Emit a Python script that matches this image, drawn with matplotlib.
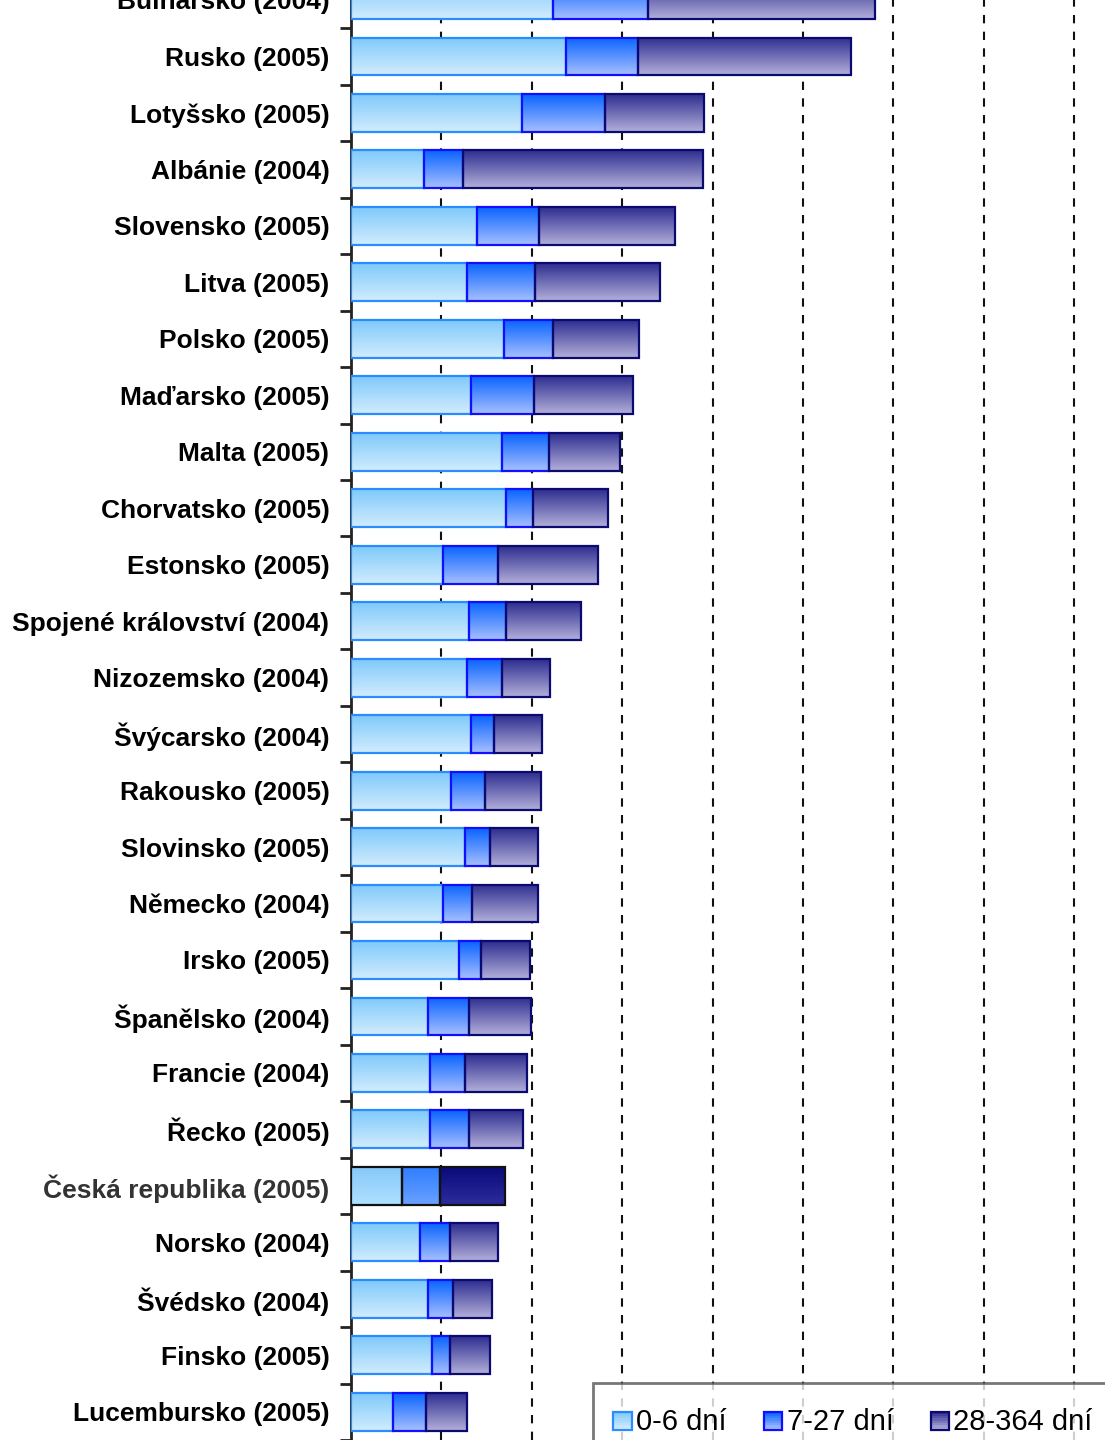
import matplotlib.pyplot as plt
import matplotlib.colors as mcolors
import numpy as np
from matplotlib.patches import Rectangle
from matplotlib.legend_handler import HandlerBase

plt.rcParams['font.family'] = ['Liberation Sans', 'DejaVu Sans']

countries = ['Bulharsko (2004)', 'Rusko (2005)', 'Lotyšsko (2005)', 'Albánie (2004)',
             'Slovensko (2005)', 'Litva (2005)', 'Polsko (2005)', 'Maďarsko (2005)',
             'Malta (2005)', 'Chorvatsko (2005)', 'Estonsko (2005)',
             'Spojené království (2004)', 'Nizozemsko (2004)', 'Švýcarsko (2004)',
             'Rakousko (2005)', 'Slovinsko (2005)', 'Německo (2004)', 'Irsko (2005)',
             'Španělsko (2004)', 'Francie (2004)', 'Řecko (2005)',
             'Česká republika (2005)', 'Norsko (2004)', 'Švédsko (2004)',
             'Finsko (2005)', 'Lucembursko (2005)']

# segment widths (one grid step = 1 unit)
d0_6 = [2.23, 2.38, 1.89, 0.81, 1.39, 1.28, 1.69, 1.33, 1.67, 1.71, 1.02, 1.31, 1.28,
        1.33, 1.11, 1.26, 1.02, 1.19, 0.85, 0.87, 0.87, 0.56, 0.76, 0.85, 0.90, 0.46]
d7_27 = [1.05, 0.80, 0.92, 0.43, 0.69, 0.75, 0.55, 0.69, 0.52, 0.30, 0.61, 0.41, 0.39,
         0.25, 0.37, 0.28, 0.32, 0.25, 0.45, 0.39, 0.43, 0.43, 0.34, 0.28, 0.19, 0.37]
d28_364 = [2.52, 2.35, 1.10, 2.65, 1.50, 1.39, 0.95, 1.10, 0.79, 0.83, 1.10, 0.82, 0.53,
           0.53, 0.62, 0.53, 0.73, 0.54, 0.69, 0.69, 0.60, 0.71, 0.53, 0.43, 0.45, 0.45]
series_names = ['0-6 dní', '7-27 dní', '28-364 dní']
highlight = 'Česká republika (2005)'

# (top colour, bottom colour, edge colour)
styles = [('#7fcafb', '#d2ecfd', '#2a8cff'),
          ('#0a64ff', '#a6bfff', '#1010ff'),
          ('#2e2e90', '#b3afda', '#0a0a70')]
styles_hl = [('#86c9fa', '#b0e0ff', '#111111'),
             ('#2f7dff', '#6aa2ff', '#111111'),
             ('#0a0a7a', '#2c2c9c', '#111111')]


def gradient(top, bottom, n=64):
    a = np.array(mcolors.to_rgb(top))
    b = np.array(mcolors.to_rgb(bottom))
    t = np.linspace(0, 1, n)[:, None]
    return (a * (1 - t) + b * t)[:, None, :]


fig = plt.figure(figsize=(11.05, 14.4), dpi=100)
ax = fig.add_axes([351 / 1105, 0, 1 - 351 / 1105, 1])

y = np.arange(len(countries))
h = 0.67
lefts = np.zeros(len(countries))
for vals, st, sth in zip([d0_6, d7_27, d28_364], styles, styles_hl):
    vals = np.array(vals)
    edges = [sth[2] if c == highlight else st[2] for c in countries]
    bars = ax.barh(y, vals, left=lefts, height=h, facecolor='none',
                   edgecolor=edges, linewidth=1.6, zorder=4)
    for c, p in zip(countries, bars.patches):
        s = sth if c == highlight else st
        x0, y0 = p.get_x(), p.get_y()
        im = ax.imshow(gradient(s[0], s[1]), extent=(x0, x0 + p.get_width(), y0 + h, y0),
                       origin='upper', aspect='auto', interpolation='bilinear', zorder=3)
        im.set_clip_path(p)
    lefts = lefts + vals

ax.set_xlim(0, (1105 - 351) / 90.4)
ax.set_ylim((1440 + 0.6) / 56.625, 0.6 / 56.625)
ax.set_xticks(np.arange(1, 9))
ax.xaxis.grid(True, color='#111111', linestyle=(0, (4, 4)), linewidth=1.5)
ax.set_axisbelow(True)
ax.tick_params(axis='x', length=0, labelbottom=False)

ax.set_yticks(y)
ax.set_yticklabels(countries, fontsize=19, fontweight='bold')
for lab in ax.get_yticklabels():
    if lab.get_text() == highlight:
        lab.set_color('#333333')
ax.tick_params(axis='y', which='major', length=0, pad=15.5)
ax.set_yticks(y + 0.5, minor=True)
ax.tick_params(axis='y', which='minor', length=8, width=2, color='#222222', direction='out')

for sp in ['top', 'right', 'bottom']:
    ax.spines[sp].set_visible(False)
ax.spines['left'].set_linewidth(2)
ax.spines['left'].set_color('#222222')


class GradHandler(HandlerBase):
    def __init__(self, st):
        super().__init__()
        self.st = st

    def create_artists(self, legend, orig_handle, xdescent, ydescent, width, height,
                       fontsize, trans):
        arts = []
        n = 8
        g = gradient(self.st[0], self.st[1], n)
        side = min(width, height)
        x0 = xdescent * -1
        y0 = -ydescent + (height - side) / 2
        for i in range(n):
            r = Rectangle((x0, y0 + side * (n - 1 - i) / n), side, side / n,
                          facecolor=g[i, 0], edgecolor='none', transform=trans)
            arts.append(r)
        arts.append(Rectangle((x0, y0), side, side, facecolor='none',
                              edgecolor=self.st[2], linewidth=1.6, transform=trans))
        return arts


handles = [Rectangle((0, 0), 1, 1) for _ in series_names]
leg = fig.legend(handles, series_names, ncol=3, loc='upper left',
                 bbox_to_anchor=(593 / 1105, 1 - 1383 / 1440),
                 handler_map={handles[i]: GradHandler(styles[i]) for i in range(3)},
                 fontsize=21, frameon=True, fancybox=False, handlelength=0.63,
                 handleheight=1.45, handletextpad=0.15, columnspacing=1.27,
                 borderpad=0.7, borderaxespad=0)
leg.get_frame().set_edgecolor('#555555')
leg.get_frame().set_linewidth(2)

fig.savefig('out.png', dpi=100)
